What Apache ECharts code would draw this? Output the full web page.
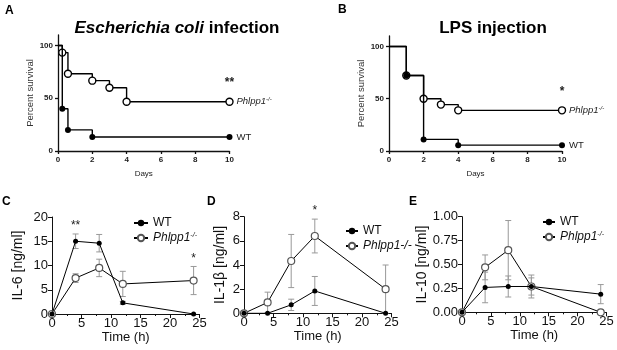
<!DOCTYPE html>
<html><head><meta charset="utf-8">
<script src="https://cdn.jsdelivr.net/npm/echarts@6/dist/echarts.min.js"></script>
<style>html,body{margin:0;padding:0;background:#fff}#c{width:617px;height:350px}</style>
</head><body><div id="c"></div>
<script>
// ---- Panel A: E. coli infection survival ----
const ecoliKoDays = [0, 0.25, 0.58, 2, 3, 4, 10];
const ecoliKoSurv = [100, 93.3, 73.3, 66.7, 60, 46.7, 46.7];
const ecoliWtDays = [0, 0.25, 0.58, 2, 10];
const ecoliWtSurv = [100, 40, 20, 13.3, 13.3];
const ecoliSig = '**';
// ---- Panel B: LPS injection survival ----
const lpsKoDays = [0, 1, 2, 3, 4, 10];
const lpsKoSurv = [100, 72.2, 50, 44.4, 38.9, 38.9];
const lpsWtDays = [0, 1, 2, 4, 10];
const lpsWtSurv = [100, 72.2, 11.1, 5.6, 5.6];
const lpsSig = '*';
const survYTicks = [0, 50, 100];
// ---- Panels C-E: cytokines over time ----
const timeH = [0, 4, 8, 12, 24];
const il6Wt   = [0, 15.0, 14.6, 2.3, 0];
const il6WtSd = [0, 1.5, 1.8, 0.3, 0];
const il6Ko   = [0, 7.4, 9.5, 6.2, 6.9];
const il6KoSd = [0, 0.9, 1.8, 2.6, 2.9];
const il6Sig  = ['', '**', '', '', '*'];
const il1bWt   = [0, 0, 0.7, 1.85, 0];
const il1bWtSd = [0, 0, 0.47, 1.2, 0];
const il1bKo   = [0, 0.9, 4.33, 6.4, 2.0];
const il1bKoSd = [0, 0.85, 2.2, 1.4, 2.0];
const il1bSig  = ['', '', '', '*', ''];
const il10Wt   = [0, 0.26, 0.27, 0.27, 0.19];
const il10WtSd = [0, 0.16, 0.11, 0.09, 0.1];
const il10Ko   = [0, 0.47, 0.65, 0.27, 0];
const il10KoSd = [0, 0.13, 0.31, 0.12, 0];
const il10Sig  = ['', '', '', '', ''];

const F = "'Liberation Sans', Arial, Helvetica, sans-serif";
const FN = "'Liberation Sans Narrow', 'Liberation Sans', Arial, sans-serif";
const last = a => a[a.length - 1];

function stepData(days, surv) {
  return days.map((d, i) => i === 0 ? {value: [d, surv[i]], symbol: 'none'} : {value: [d, surv[i]]});
}
function survX(gi) {
  return {type: 'value', gridIndex: gi, min: 0, max: 10, interval: 2,
    name: 'Days', nameLocation: 'middle', nameGap: 19,
    nameTextStyle: {fontSize: 8, color: '#222', fontFamily: F},
    axisLine: {lineStyle: {color: '#111', width: 1.3}},
    axisTick: {length: 3, lineStyle: {color: '#111', width: 1.3}},
    axisLabel: {fontSize: 8, fontWeight: 'bold', color: '#222', margin: 5, fontFamily: F},
    splitLine: {show: false}};
}
function survY(gi) {
  return {type: 'value', gridIndex: gi, min: 0, max: 110,
    name: 'Percent survival', nameLocation: 'middle', nameGap: 22,
    nameTextStyle: {fontSize: 9.5, color: '#333', fontFamily: F},
    axisLine: {show: true, lineStyle: {color: '#111', width: 1.3}},
    axisTick: {show: true, length: 3, customValues: survYTicks, lineStyle: {color: '#111', width: 1.3}},
    axisLabel: {customValues: survYTicks, fontSize: 8, fontWeight: 'bold', color: '#222', margin: 5, fontFamily: F},
    splitLine: {show: false}};
}
const koRich = {
  i: {fontStyle: 'italic', fontSize: 9.5, color: '#222', fontFamily: F},
  s: {fontStyle: 'italic', fontSize: 6, color: '#222', fontFamily: F, verticalAlign: 'bottom', padding: [0, 0, 5, 0]}
};
function survSeries(name, gi, days, surv, isKo, sig) {
  const s = {
    name, type: 'line', step: 'end', xAxisIndex: gi, yAxisIndex: gi,
    data: stepData(days, surv), symbol: 'circle', symbolSize: isKo ? 7 : 6,
    lineStyle: {color: '#000', width: 1.4},
    itemStyle: isKo ? {color: '#fff', borderColor: '#000', borderWidth: 1.4} : {color: '#000', borderWidth: 0},
    z: isKo ? 3 : 4,
    endLabel: {show: true, distance: 7,
      formatter: isKo ? '{i|Phlpp1}{s|-/-}' : 'WT',
      fontSize: 9.5, color: '#222', fontFamily: F, rich: koRich}
  };
  if (sig) {
    s.markPoint = {symbol: 'circle', symbolSize: 1, itemStyle: {color: 'rgba(0,0,0,0)'},
      label: {show: true, formatter: sig, offset: [0, -19], fontSize: 12, fontWeight: 'bold', color: '#222', fontFamily: F},
      data: [{coord: [last(days), last(surv)]}]};
  }
  return s;
}
function cytoX(gi) {
  return {type: 'value', gridIndex: gi, min: 0, max: 25, interval: 5,
    name: 'Time (h)', nameLocation: 'middle', nameGap: 16,
    nameTextStyle: {fontSize: 13, color: '#111', fontFamily: FN},
    axisLine: {lineStyle: {color: '#111', width: 1}},
    axisTick: {length: 4, lineStyle: {color: '#111', width: 1}},
    minorTick: {show: true, splitNumber: 2, length: 2, lineStyle: {color: '#111', width: 1}},
    axisLabel: {fontSize: 13, color: '#111', margin: 3, fontFamily: FN},
    splitLine: {show: false}};
}
function cytoY(gi, max, interval, name, gap, fmt) {
  return {type: 'value', gridIndex: gi, min: 0, max, interval,
    name, nameLocation: 'middle', nameGap: gap,
    nameTextStyle: {fontSize: 14, color: '#111', fontFamily: F},
    axisLine: {show: true, lineStyle: {color: '#111', width: 1}},
    axisTick: {show: true, length: 4, lineStyle: {color: '#111', width: 1}},
    axisLabel: {fontSize: 13, color: '#111', margin: 4, fontFamily: FN, formatter: fmt},
    splitLine: {show: false}};
}
function cytoLine(name, gi, means, isKo) {
  return {name, type: 'line', xAxisIndex: gi, yAxisIndex: gi,
    data: timeH.map((t, i) => [t, means[i]]), symbol: 'circle', symbolSize: isKo ? 7 : 5,
    lineStyle: {color: '#000', width: 1},
    itemStyle: isKo ? {color: '#fff', borderColor: '#555', borderWidth: 1.2} : {color: '#000', borderWidth: 0},
    z: isKo ? 3 : 4};
}
function errSeries(gi, means, sds) {
  return {type: 'custom', xAxisIndex: gi, yAxisIndex: gi, z: 1, silent: true,
    data: timeH.map((t, i) => [t, means[i], sds[i]]),
    renderItem(params, api) {
      const x = api.value(0), m = api.value(1), s = api.value(2);
      if (!s) return null;
      const top = api.coord([x, m + s]);
      const bot = api.coord([x, Math.max(0, m - s)]);
      const hw = 3, st = {stroke: '#999', lineWidth: 1};
      return {type: 'group', children: [
        {type: 'line', shape: {x1: top[0], y1: top[1], x2: bot[0], y2: bot[1]}, style: st},
        {type: 'line', shape: {x1: top[0] - hw, y1: top[1], x2: top[0] + hw, y2: top[1]}, style: st},
        {type: 'line', shape: {x1: bot[0] - hw, y1: bot[1], x2: bot[0] + hw, y2: bot[1]}, style: st}
      ]};
    }};
}
function sigSeries(gi, wt, wtSd, ko, koSd, sig) {
  return {type: 'custom', xAxisIndex: gi, yAxisIndex: gi, z: 5, silent: true,
    data: timeH.map((t, i) => [t, Math.max(wt[i] + wtSd[i], ko[i] + koSd[i]), i]),
    renderItem(params, api) {
      const txt = sig[api.value(2)];
      if (!txt) return null;
      const c = api.coord([api.value(0), api.value(1)]);
      return {type: 'text', x: c[0], y: c[1] - 2,
        style: {text: txt, fill: '#222', font: '12px ' + F, align: 'center', verticalAlign: 'bottom'}};
    }};
}
const legendNames = {WT: 'WT', KOs: '{i|Phlpp1}{s|-/-}', KOd: '{i|Phlpp1-/-}'};
const legRich = {
  i: {fontStyle: 'italic', fontSize: 12, color: '#111', fontFamily: F},
  s: {fontStyle: 'italic', fontSize: 7, color: '#111', fontFamily: F, verticalAlign: 'bottom', padding: [0, 0, 6, 0]}
};
function legend(prefix, left, top, iw, supKo) {
  return {data: [prefix + '_WT', prefix + '_KO'], left, top, orient: 'vertical',
    itemWidth: iw, itemHeight: 8, itemGap: 1, padding: 0, selectedMode: false,
    formatter: n => n.endsWith('WT') ? 'WT' : (supKo ? legendNames.KOs : legendNames.KOd),
    textStyle: {fontSize: 12, lineHeight: 14, color: '#111', fontFamily: F, rich: legRich}};
}

const chart = echarts.init(document.getElementById('c'), null, {width: 617, height: 350});
chart.setOption({
  animation: false,
  backgroundColor: '#fff',
  title: [
    {text: '{i|Escherichia coli}{b| infection}', left: 177, top: 20, textAlign: 'center', padding: 0,
      textStyle: {rich: {
        i: {fontSize: 17, fontWeight: 'bold', fontStyle: 'italic', fontFamily: F, color: '#000'},
        b: {fontSize: 17, fontWeight: 'bold', fontFamily: F, color: '#000'}}}},
    {text: 'LPS injection', left: 493, top: 20, textAlign: 'center', padding: 0,
      textStyle: {fontSize: 17, fontWeight: 'bold', fontFamily: F, color: '#000'}},
    {text: 'A', left: 5, top: 5, padding: 0, textStyle: {fontSize: 12, fontWeight: 'bold', fontFamily: F, color: '#000'}},
    {text: 'B', left: 338, top: 4, padding: 0, textStyle: {fontSize: 12, fontWeight: 'bold', fontFamily: F, color: '#000'}},
    {text: 'C', left: 2, top: 196, padding: 0, textStyle: {fontSize: 12, fontWeight: 'bold', fontFamily: F, color: '#000'}},
    {text: 'D', left: 207, top: 196, padding: 0, textStyle: {fontSize: 12, fontWeight: 'bold', fontFamily: F, color: '#000'}},
    {text: 'E', left: 409, top: 196, padding: 0, textStyle: {fontSize: 12, fontWeight: 'bold', fontFamily: F, color: '#000'}}
  ],
  legend: [legend('C', 133, 216, 14, true), legend('D', 345, 224, 12, false), legend('E', 542, 215, 12, true)],
  grid: [
    {left: 58, top: 35, width: 171.5, height: 116},
    {left: 389, top: 36, width: 173, height: 115},
    {left: 52, top: 217, width: 147.5, height: 97},
    {left: 244, top: 216.7, width: 147.5, height: 96.6},
    {left: 462, top: 216.7, width: 144.5, height: 95.6}
  ],
  xAxis: [survX(0), survX(1), cytoX(2), cytoX(3), cytoX(4)],
  yAxis: [survY(0), survY(1),
    cytoY(2, 20, 5, 'IL-6 [ng/ml]', 27),
    cytoY(3, 8, 2, 'IL-1β [ng/ml]', 17),
    cytoY(4, 1, 0.25, 'IL-10 [ng/ml]', 29, v => v.toFixed(2))],
  series: [
    survSeries('A_KO', 0, ecoliKoDays, ecoliKoSurv, true, ecoliSig),
    survSeries('A_WT', 0, ecoliWtDays, ecoliWtSurv, false, null),
    survSeries('B_KO', 1, lpsKoDays, lpsKoSurv, true, lpsSig),
    survSeries('B_WT', 1, lpsWtDays, lpsWtSurv, false, null),
    errSeries(2, il6Wt, il6WtSd), errSeries(2, il6Ko, il6KoSd),
    cytoLine('C_KO', 2, il6Ko, true), cytoLine('C_WT', 2, il6Wt, false),
    sigSeries(2, il6Wt, il6WtSd, il6Ko, il6KoSd, il6Sig),
    errSeries(3, il1bWt, il1bWtSd), errSeries(3, il1bKo, il1bKoSd),
    cytoLine('D_KO', 3, il1bKo, true), cytoLine('D_WT', 3, il1bWt, false),
    sigSeries(3, il1bWt, il1bWtSd, il1bKo, il1bKoSd, il1bSig),
    errSeries(4, il10Wt, il10WtSd), errSeries(4, il10Ko, il10KoSd),
    cytoLine('E_KO', 4, il10Ko, true), cytoLine('E_WT', 4, il10Wt, false),
    sigSeries(4, il10Wt, il10WtSd, il10Ko, il10KoSd, il10Sig)
  ]
});
</script></body></html>
